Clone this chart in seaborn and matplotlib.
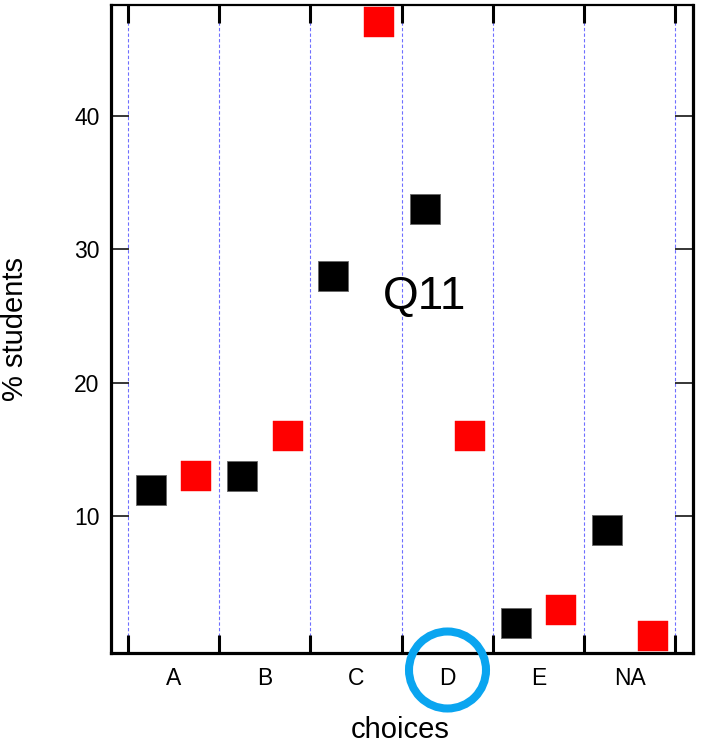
import numpy as np
import pandas as pd
import matplotlib
matplotlib.use("Agg")
import matplotlib.pyplot as plt
from matplotlib.patches import Circle
import seaborn as sns

categories = ["A", "B", "C", "D", "E", "NA"]
black_vals = [12, 13, 28, 33, 2, 9]
red_vals = [13, 16, 47, 16, 3, 1]
yticks = [10, 20, 30, 40]
title_text = "Q11"

sns.set_theme(style="white")
plt.rcParams["font.family"] = ["Liberation Sans", "DejaVu Sans"]
plt.rcParams["axes.axisbelow"] = False
plt.rcParams["text.color"] = "black"
plt.rcParams["axes.labelcolor"] = "black"
plt.rcParams["xtick.color"] = "black"
plt.rcParams["ytick.color"] = "black"
plt.rcParams["xtick.major.size"] = 13
plt.rcParams["ytick.major.size"] = 13

idx = np.arange(len(categories))
df = pd.DataFrame({
    "pos": np.concatenate([idx - 0.25, idx + 0.25]),
    "pct": black_vals + red_vals,
    "group": ["pre"] * len(categories) + ["post"] * len(categories),
})

fig = plt.figure(figsize=(7.06, 7.44), dpi=100)
ax = fig.add_axes([0.1568, 0.1223, 0.9812 - 0.1568, 0.9933 - 0.1223])
ax.set_axisbelow(False)

for b in np.arange(-0.5, len(categories), 1.0):
    ax.axvline(b, color="#6f6fff", lw=0.8, ls=(0, (3, 2)), zorder=0.5)

sns.scatterplot(data=df[df.group == "pre"], x="pos", y="pct", color="black",
                marker="s", s=437, edgecolor="#666666", linewidth=0.6, ax=ax,
                legend=False, zorder=3)
sns.scatterplot(data=df[df.group == "post"], x="pos", y="pct", color="#ff0000",
                marker="s", s=437, edgecolor="#ff0000", linewidth=0.3, ax=ax,
                legend=False, zorder=3)

ax.set_xlim(-0.69, 5.69)
ax.set_ylim(-0.25, 48.3)

ax.set_xticks(np.arange(-0.5, len(categories), 1.0))
ax.set_xticklabels([])
ax.set_xticks(idx, minor=True)
ax.set_xticklabels(categories, minor=True)
ax.tick_params(axis="x", which="major", direction="in", length=13, width=2.2,
               top=True, bottom=True, color="black")
ax.tick_params(axis="x", which="minor", length=0, pad=10, labelsize=16.5,
               labelcolor="black")
ax.set_yticks(yticks)
ax.set_yticklabels([str(v) for v in yticks])
ax.tick_params(axis="y", which="major", direction="in", length=13, width=1.1,
               left=True, right=True, color="black", pad=8, labelsize=16.5,
               labelcolor="black")

for side in ["left", "bottom", "right"]:
    ax.spines[side].set_linewidth(2.3)
    ax.spines[side].set_color("black")
ax.spines["top"].set_linewidth(1.6)
ax.spines["top"].set_color("black")

ax.set_xlabel("choices", fontsize=21, color="black")
ax.set_ylabel("% students", fontsize=21, color="black")
ax.xaxis.set_label_coords(0.497, -0.097)
ax.yaxis.set_label_coords(-0.140, 0.5)

ax.text(2.75, 25.5, title_text, fontsize=33, ha="center", va="baseline",
        color="black")

circ = Circle((4.475, 0.74), 0.385, transform=fig.dpi_scale_trans, fill=False,
              edgecolor="#0aa5f0", linewidth=5.8, zorder=10)
fig.add_artist(circ)

fig.savefig("out.png", dpi=100)
